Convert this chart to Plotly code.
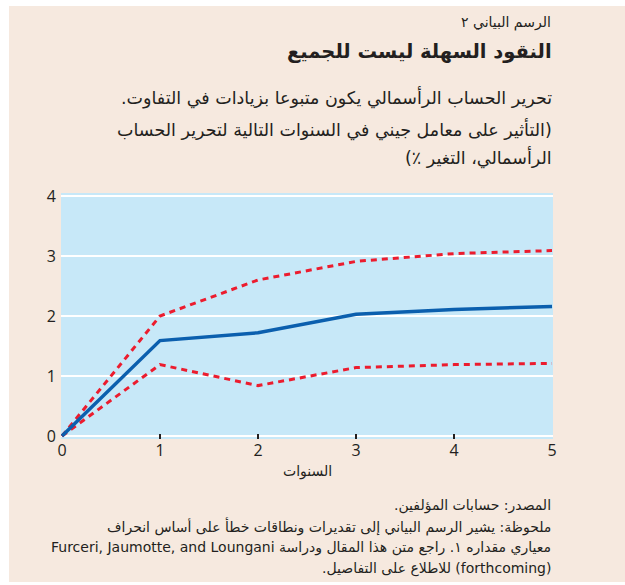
import plotly.graph_objects as go

years = [0, 1, 2, 3, 4, 5]
estimate = [0, 1.59, 1.72, 2.03, 2.11, 2.16]
upper = [0, 2.0, 2.6, 2.91, 3.04, 3.09]
lower = [0, 1.19, 0.84, 1.14, 1.19, 1.21]
y_ticks = [0, 1, 2, 3, 4]
x_ticks = [0, 1, 2, 3, 4, 5]

label = "الرسم البياني ٢"
title = "النقود السهلة ليست للجميع"
subtitle = ["تحرير الحساب الرأسمالي يكون متبوعا بزيادات في التفاوت.",
            "(التأثير على معامل جيني في السنوات التالية لتحرير الحساب",
            "الرأسمالي، التغير ٪)"]
x_title = "السنوات"
notes = ["المصدر: حسابات المؤلفين.",
         "ملحوظة: يشير الرسم البياني إلى تقديرات ونطاقات خطأ على أساس انحراف",
         "معياري مقداره ١. راجع متن هذا المقال ودراسة Furceri, Jaumotte, and Loungani",
         "(forthcoming) للاطلاع على التفاصيل."]

W, H = 625, 585
L, R, T, B = 61, 553, 193, 439
AR = "DejaVu Sans"
NUM = "Open Sans"
INK = "#231f20"
BEIGE = "#f6e9df"

def px(x):
    return (x - L) / (R - L)

def py(y):
    return (B - y) / (B - T)

def rtl(s):
    return "\u202b" + s + "\u202c"

fig = go.Figure()
fig.add_trace(go.Scatter(x=years, y=upper, mode="lines",
                         line=dict(color="#ec1c2e", width=3, dash="6px,5px")))
fig.add_trace(go.Scatter(x=years, y=lower, mode="lines",
                         line=dict(color="#ec1c2e", width=3, dash="6px,5px")))
fig.add_trace(go.Scatter(x=years, y=estimate, mode="lines",
                         line=dict(color="#0b5fae", width=3.5)))

# white strips around the beige panel
for (x0, x1, y0, y1) in [(0, 9, 0, 585), (0, 625, 0, 6), (0, 625, 582, 585)]:
    fig.add_shape(type="rect", xref="paper", yref="paper",
                  x0=px(x0), x1=px(x1), y0=py(y1), y1=py(y0),
                  fillcolor="white", line=dict(width=0), layer="below")

ann = []
ann.append(dict(text=rtl(label), x=px(553), y=py(22), font=dict(family=AR, size=14, color=INK)))
ann.append(dict(text="<b>" + rtl(title) + "</b>", x=px(554), y=py(52), font=dict(family=AR, size=19.5, color=INK)))
for i, s in enumerate(subtitle):
    ann.append(dict(text=rtl(s), x=px(554), y=py([98, 129, 157][i]), font=dict(family=AR, size=17.5, color=INK)))
for i, s in enumerate(notes):
    ann.append(dict(text=rtl(s), x=px(553), y=py([505, 526, 547, 568][i]), font=dict(family=AR, size=14, color=INK)))
for a in ann:
    a.update(xref="paper", yref="paper", xanchor="right", yanchor="middle", showarrow=False)
ann.append(dict(text=x_title, x=px(307), y=py(471), xref="paper", yref="paper",
                xanchor="center", yanchor="middle", showarrow=False,
                font=dict(family=AR, size=14, color=INK)))
fig.update_layout(annotations=ann)

fig.update_layout(
    width=W, height=H,
    margin=dict(l=L, r=W - R, t=T, b=H - B, pad=0),
    paper_bgcolor=BEIGE,
    plot_bgcolor="#c7e8f8",
    showlegend=False,
    xaxis=dict(range=[-0.01, 5.01], tickvals=x_ticks, ticks="inside", ticklen=5,
               tickwidth=1.5, tickcolor=INK, showgrid=False, zeroline=False,
               showline=False, tickfont=dict(family=NUM, size=16, color=INK),
               fixedrange=True),
    yaxis=dict(range=[-0.05, 4.05], tickvals=y_ticks, ticks="", showgrid=True,
               gridcolor="white", gridwidth=2, zeroline=False, showline=False,
               tickfont=dict(family=NUM, size=16, color=INK), ticklabelstandoff=4,
               fixedrange=True),
)

fig.write_html("out.html")
